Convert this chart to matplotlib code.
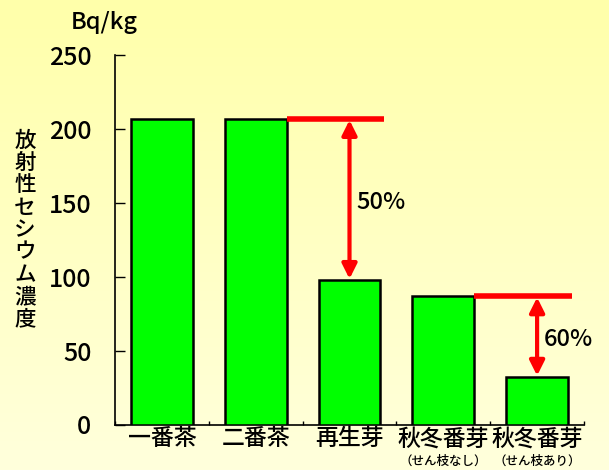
import numpy as np
import matplotlib
matplotlib.use("Agg")
import matplotlib.pyplot as plt
from matplotlib.colors import LinearSegmentedColormap

plt.rcParams['font.family'] = ['Noto Sans CJK JP', 'DejaVu Sans']
plt.rcParams['font.weight'] = 'medium'

# ---- data ----
categories = ["一番茶", "二番茶", "再生芽", "秋冬番芽", "秋冬番芽"]
subtitles = ["", "", "", "（せん枝なし）", "（せん枝あり）"]
values = [207, 207, 97.5, 87, 32]
yticks = [0, 50, 100, 150, 200, 250]
ylabel = "放射性セシウム濃度"
unit = "Bq/kg"
# reduction annotations: (reference bar index, reduced bar index, label)
reductions = [(1, 2, "50%"), (3, 4, "60%")]

fig = plt.figure(figsize=(6.09, 4.70), dpi=100)

# background gradient
bg = fig.add_axes([0, 0, 1, 1], zorder=-10)
cmap = LinearSegmentedColormap.from_list("bgy", ["#FFFFDC", "#FFFFAA"])
grad = np.linspace(0, 1, 256).reshape(-1, 1)
bg.imshow(grad, aspect="auto", cmap=cmap, origin="lower", extent=[0, 1, 0, 1])
bg.axis("off")

ax = fig.add_axes([115/609, 1-424.5/470, (584-115)/609, (424.5-55)/470])
ax.set_facecolor("none")
x = np.arange(len(categories))
ax.bar(x, values, width=0.66, color="#00FF00", edgecolor="black", linewidth=1.8, zorder=3)

ax.set_xlim(-0.5, len(categories) - 0.5)
ax.set_ylim(0, 250)
ax.set_yticks(yticks)
ax.set_yticklabels([str(t) for t in yticks], fontsize=18)
ax.tick_params(axis="y", direction="in", length=7, width=1, pad=17)
ax.set_xticks(np.arange(len(categories) + 1) - 0.5)
ax.set_xticklabels([])
ax.tick_params(axis="x", direction="in", length=3, width=1)
for s in ["top", "right"]:
    ax.spines[s].set_visible(False)
for s in ["left", "bottom"]:
    ax.spines[s].set_linewidth(1.2)

for xi, (c, st) in enumerate(zip(categories, subtitles)):
    ax.annotate(c, xy=(xi, 0), xycoords="data", xytext=(0, -2), textcoords="offset points",
                ha="center", va="top", fontsize=16.5)
    if st:
        ax.annotate(st, xy=(xi, 0), xycoords="data", xytext=(0, -22), textcoords="offset points",
                    ha="center", va="top", fontsize=9)

# reduction markers
for ref, red, lab in reductions:
    ref_v = values[ref]
    red_v = values[red]
    ax.plot([red - 0.67, red + 0.37], [ref_v, ref_v], color="#FF0000", lw=4, solid_capstyle="butt", zorder=4)
    ax.annotate("", xy=(red, red_v + 1), xytext=(red, ref_v - 1),
                arrowprops=dict(arrowstyle="<|-|>", color="#FF0000", lw=3,
                                mutation_scale=22, shrinkA=0, shrinkB=0), zorder=5)
    ax.text(red + 0.07, (ref_v + red_v) / 2 - 2, lab, fontsize=17, ha="left", va="center")

fig.text(104/609, 1-22/470, unit, fontsize=17, ha="center", va="center")
fig.text(25/609, 1-230/470, "\n".join(ylabel), fontsize=15.5, ha="center", va="center",
         linespacing=1.02)

fig.savefig("out.png", dpi=100)
